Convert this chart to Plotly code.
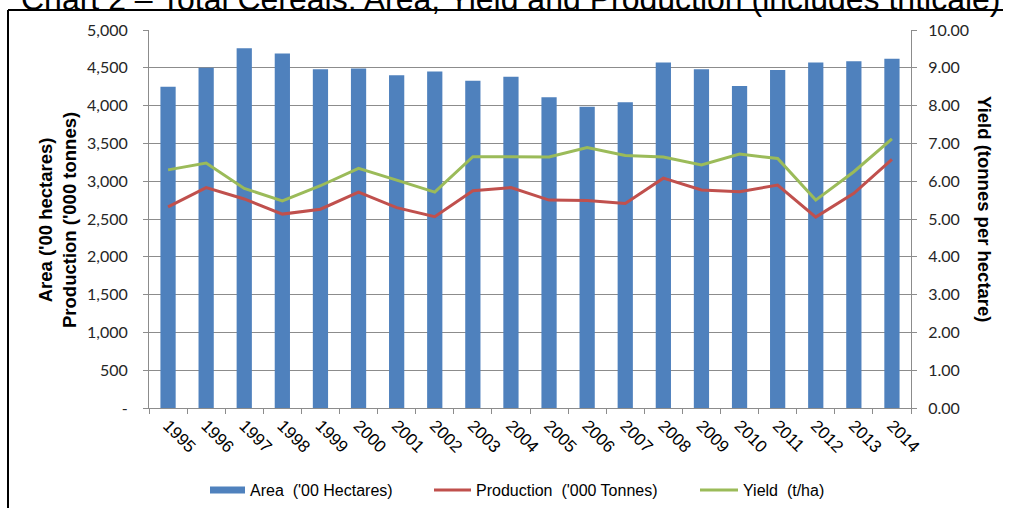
import plotly.graph_objects as go

# Total cereals, 1995-2014
years = [str(y) for y in range(1995, 2015)]
area = [4250, 4500, 4760, 4690, 4480, 4490, 4400, 4450, 4330, 4380,
        4110, 3985, 4045, 4570, 4480, 4260, 4470, 4570, 4585, 4620]
production = [2660, 2915, 2765, 2565, 2630, 2855, 2650, 2530, 2875, 2915,
              2750, 2745, 2705, 3040, 2885, 2860, 2950, 2525, 2840, 3290]
yield_tha = [6.30, 6.48, 5.81, 5.48, 5.88, 6.34, 6.03, 5.71, 6.65, 6.64,
             6.64, 6.89, 6.68, 6.64, 6.43, 6.72, 6.60, 5.50, 6.25, 7.12]

left_ticks = list(range(0, 5001, 500))
left_labels = ["-" if v == 0 else f"{v:,}" for v in left_ticks]
right_ticks = list(range(0, 11))
right_labels = [f"{v:.2f}" for v in right_ticks]

names = ["Area\u00a0 ('00 Hectares)", "Production\u00a0 ('000 Tonnes)", "Yield\u00a0 (t/ha)"]
colors = ["#4F81BD", "#C0504D", "#9BBB59"]

W, H = 1010, 508
ML, MR, MT, MB = 149, 99, 30, 100
PW, PH = W - ML - MR, H - MT - MB


def px(x):
    return (x - ML) / PW


def py(y):
    return (H - MB - y) / PH


fig = go.Figure()
fig.add_trace(go.Bar(x=years, y=area, name=names[0], marker=dict(color=colors[0], line=dict(width=0)),
                     yaxis="y"))
fig.add_trace(go.Scatter(x=years, y=production, name=names[1], mode="lines",
                         line=dict(color=colors[1], width=3), yaxis="y"))
fig.add_trace(go.Scatter(x=years, y=yield_tha, name=names[2], mode="lines",
                         line=dict(color=colors[2], width=3), yaxis="y2"))

grey = "#8C8C8C"
tickfont = dict(family="Lato", size=16, color="#262626")

fig.update_layout(
    width=W, height=H,
    margin=dict(l=ML, r=MR, t=MT, b=MB),
    paper_bgcolor="white", plot_bgcolor="white",
    showlegend=False,
    bargap=0.6,
    xaxis=dict(type="category", showgrid=False, showline=True, linecolor=grey, linewidth=1,
               ticks="outside", tickson="boundaries", ticklen=5, tickcolor=grey,
               tickangle=45, tickfont=dict(family="Liberation Sans, Arial", size=17, color="black")),
    yaxis=dict(range=[0, 5000], tickvals=left_ticks, ticktext=left_labels, showgrid=True,
               gridcolor=grey, gridwidth=1, showline=True, linecolor=grey, linewidth=1,
               ticks="outside", ticklen=5, tickcolor=grey, tickfont=tickfont,
               ticklabelstandoff=12, zeroline=False),
    yaxis2=dict(range=[0, 10], tickvals=right_ticks, ticktext=right_labels, overlaying="y",
                side="right", showgrid=False, showline=True, linecolor=grey, linewidth=1,
                ticks="outside", ticklen=5, tickcolor=grey, tickfont=tickfont,
                ticklabelstandoff=8, zeroline=False),
)

axis_title_font = dict(family="Liberation Sans, Arial", size=18.5, color="black")
annotations = [
    dict(text="Chart 2 \u2013 Total Cereals: Area, Yield and Production (includes triticale)",
         xref="paper", yref="paper", x=px(510), y=py(19), xanchor="center", yanchor="bottom",
         showarrow=False, font=dict(family="Liberation Sans, Arial", size=32, color="black")),
    dict(text="<b>Area ('00 hectares)</b><br><b>Production ('000 tonnes)</b>",
         xref="paper", yref="paper", x=px(57), y=py(220), xanchor="center", yanchor="middle",
         textangle=-90, showarrow=False, font=axis_title_font),
    dict(text="<b>Yield (tonnes per hectare)</b>",
         xref="paper", yref="paper", x=px(985), y=py(210), xanchor="center", yanchor="middle",
         textangle=90, showarrow=False, font=axis_title_font),
]

shapes = [
    # frame around the chart
    dict(type="line", xref="paper", yref="paper", x0=px(8), x1=px(1003), y0=py(10), y1=py(10),
         line=dict(color="black", width=2)),
    dict(type="line", xref="paper", yref="paper", x0=px(8), x1=px(8), y0=py(10), y1=py(H + 5),
         line=dict(color="black", width=2)),
]

# legend row under the axis
legend_y = 490
swatch_x = [(210, 245), (434, 471), (700, 738)]
for i, (name, color) in enumerate(zip(names, colors)):
    x0, x1 = swatch_x[i]
    if i == 0:
        shapes.append(dict(type="rect", xref="paper", yref="paper", x0=px(x0), x1=px(x1),
                           y0=py(legend_y + 3.5), y1=py(legend_y - 3.5),
                           fillcolor=color, line=dict(width=0)))
    else:
        shapes.append(dict(type="line", xref="paper", yref="paper", x0=px(x0), x1=px(x1),
                           y0=py(legend_y), y1=py(legend_y), line=dict(color=color, width=3)))
    annotations.append(dict(text=name, xref="paper", yref="paper", x=px(x1 + 3), y=py(legend_y),
                            xanchor="left", yanchor="middle", showarrow=False,
                            font=dict(family="Liberation Sans, Arial", size=16, color="black")))

fig.update_layout(annotations=annotations, shapes=shapes)

fig.write_html("out.html")
